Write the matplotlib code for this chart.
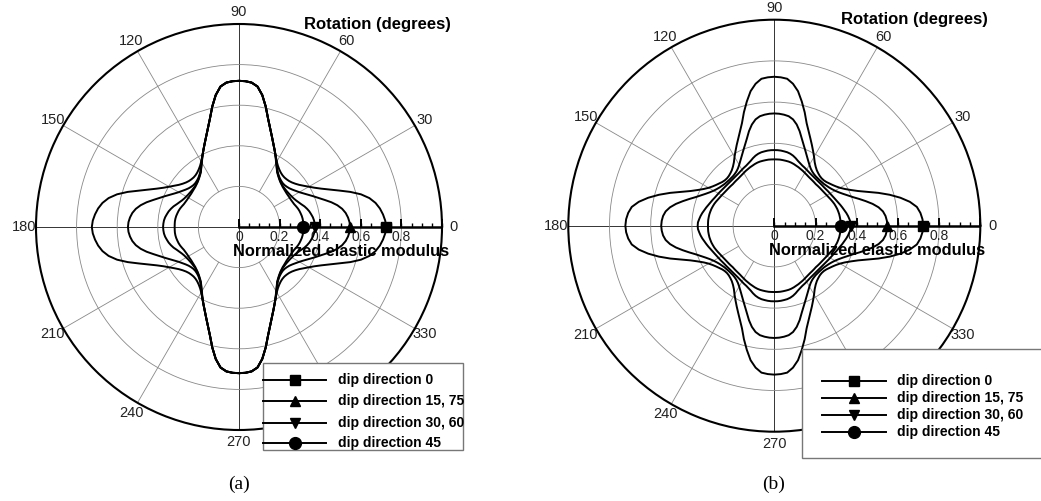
import numpy as np
import matplotlib.pyplot as plt
from matplotlib.lines import Line2D
from matplotlib.patches import Rectangle

plt.rcParams['font.family'] = ['Liberation Sans', 'DejaVu Sans']

#rotation angles of one quadrant (degrees), curves are mirror symmetric
angles = np.arange(0, 90.1, 2.5)

#panel (a) normalized elastic modulus, read every 2.5 degrees
a_dip0 = [0.725, 0.721, 0.712, 0.700, 0.683, 0.658, 0.622, 0.575, 0.525, 0.482,
          0.447, 0.419, 0.397, 0.378, 0.362, 0.350, 0.341, 0.335, 0.332, 0.331,
          0.333, 0.338, 0.346, 0.357, 0.372, 0.392, 0.416, 0.443, 0.474, 0.510,
          0.553, 0.608, 0.660, 0.698, 0.714, 0.719, 0.720]
a_dip15 = [0.547, 0.545, 0.539, 0.530, 0.516, 0.496, 0.471, 0.443, 0.418, 0.396,
           0.376, 0.358, 0.343, 0.331, 0.321, 0.313, 0.308, 0.305, 0.305, 0.308,
           0.313, 0.321, 0.332, 0.349, 0.370, 0.392, 0.416, 0.443, 0.474, 0.510,
           0.553, 0.608, 0.660, 0.698, 0.714, 0.719, 0.720]
a_dip30 = [0.374, 0.373, 0.371, 0.367, 0.361, 0.355, 0.347, 0.338, 0.327, 0.318,
           0.310, 0.304, 0.300, 0.297, 0.295, 0.294, 0.294, 0.295, 0.298, 0.303,
           0.310, 0.319, 0.330, 0.347, 0.368, 0.391, 0.416, 0.443, 0.474, 0.510,
           0.553, 0.608, 0.660, 0.698, 0.714, 0.719, 0.720]
a_dip45 = [0.317, 0.317, 0.317, 0.316, 0.314, 0.311, 0.308, 0.304, 0.299, 0.294,
           0.291, 0.289, 0.288, 0.287, 0.287, 0.288, 0.290, 0.292, 0.296, 0.301,
           0.308, 0.317, 0.328, 0.345, 0.366, 0.390, 0.416, 0.443, 0.474, 0.510,
           0.553, 0.608, 0.660, 0.698, 0.714, 0.719, 0.720]

#panel (b)
b_dip0 = [0.723, 0.720, 0.712, 0.698, 0.668, 0.627, 0.580, 0.530, 0.480, 0.440,
          0.410, 0.386, 0.368, 0.355, 0.345, 0.337, 0.330, 0.326, 0.325, 0.327,
          0.332, 0.339, 0.350, 0.365, 0.386, 0.408, 0.432, 0.458, 0.487, 0.522,
          0.570, 0.617, 0.663, 0.695, 0.716, 0.721, 0.723]
b_dip15 = [0.549, 0.547, 0.542, 0.532, 0.514, 0.489, 0.460, 0.432, 0.406, 0.385,
           0.367, 0.352, 0.340, 0.331, 0.324, 0.319, 0.315, 0.313, 0.312, 0.312,
           0.313, 0.316, 0.321, 0.329, 0.341, 0.356, 0.374, 0.394, 0.417, 0.443,
           0.475, 0.503, 0.524, 0.536, 0.541, 0.544, 0.545]
b_dip30 = [0.372, 0.371, 0.366, 0.361, 0.355, 0.348, 0.342, 0.336, 0.330, 0.325,
           0.320, 0.316, 0.313, 0.310, 0.307, 0.305, 0.304, 0.303, 0.303, 0.303,
           0.304, 0.305, 0.307, 0.310, 0.314, 0.318, 0.322, 0.328, 0.335, 0.344,
           0.352, 0.358, 0.362, 0.364, 0.366, 0.367, 0.367]
b_dip45 = [0.322, 0.322, 0.322, 0.321, 0.320, 0.318, 0.316, 0.313, 0.310, 0.306,
           0.302, 0.298, 0.295, 0.292, 0.290, 0.288, 0.287, 0.286, 0.285, 0.286,
           0.287, 0.288, 0.290, 0.293, 0.296, 0.300, 0.303, 0.307, 0.310, 0.314,
           0.317, 0.319, 0.320, 0.321, 0.322, 0.322, 0.322]

labels = ['dip direction 0', 'dip direction 15, 75', 'dip direction 30, 60', 'dip direction 45']
markers = ['s', '^', 'v', 'o']
msizes = [6.5, 7, 7, 8.5]

rlabels = ['0', '0.2', '0.4', '0.6', '0.8']
#300 sits behind the legend box in both panels
theta_labels = ['0', '30', '60', '90', '120', '150', '180', '210', '240', '270', '', '330']

W, H = 1041, 501
fig = plt.figure(figsize=(W / 100, H / 100), dpi=100)


#mirror one quadrant into the full circle
def full_curve(q):
    q = np.asarray(q)
    th = np.concatenate([angles, 180 - angles[::-1][1:], 180 + angles[1:], 360 - angles[::-1][1:]])
    r = np.concatenate([q, q[::-1][1:], q[1:], q[::-1][1:]])
    return np.deg2rad(th), r


def panel(cx, cy, R, curves):
    rect = [(cx - R) / W, 1 - (cy + R) / H, 2 * R / W, 2 * R / H]
    ax = fig.add_axes(rect, projection='polar')
    ax.set_ylim(0, 1)
    ax.set_yticks([0.2, 0.4, 0.6, 0.8])
    ax.set_yticklabels([])
    ax.tick_params(axis='y', length=0)
    ax.yaxis.grid(True, color='#888888', lw=0.6)
    ax.xaxis.grid(False)
    ax.spines['polar'].set_linewidth(1.5)

    ax.set_xticks(np.deg2rad(np.arange(0, 360, 30)))
    ax.set_xticklabels(theta_labels)
    ax.set_xticks(np.deg2rad(np.arange(0, 360, 5)), minor=True)
    ax.tick_params(axis='x', which='major', direction='in', length=8, width=1.6,
                   pad=1.5, labelsize=10.5, labelcolor='#222222')
    ax.tick_params(axis='x', which='minor', direction='in', length=4, width=0.8)

    #spokes
    for a in range(0, 360, 30):
        t = np.deg2rad(a)
        if a % 90 == 0:
            ax.plot([t, t], [0, 1], color='#333333', lw=0.7, zorder=1)
        else:
            ax.plot([t, t], [0.2, 1], color='#888888', lw=0.6, zorder=1)

    #radial axis along 0 degrees
    ax.plot([0, 0], [0, 1], color='k', lw=1.8, zorder=3)
    minor_r = np.arange(0, 1.001, 0.05)
    major_r = np.arange(0, 1.001, 0.2)
    ax.plot(np.zeros(len(minor_r)), minor_r, ls='none', marker=2, ms=3, mew=1,
            color='k', zorder=3, clip_on=False)
    ax.plot(np.zeros(len(major_r)), major_r, ls='none', marker=2, ms=6, mew=1.4,
            color='k', zorder=3, clip_on=False)
    for v, lbl in zip(major_r, rlabels):
        ax.annotate(lbl, xy=(0, v), xytext=(0, -7.5), textcoords='offset points',
                    ha='center', va='center', fontsize=10, color='#222222')

    for q, m, ms in zip(curves, markers, msizes):
        th, r = full_curve(q)
        ax.plot(th, r, color='k', lw=1.4, zorder=4, solid_joinstyle='round')
        ax.plot([0], [q[0]], marker=m, ms=ms, color='k', ls='none', zorder=5, clip_on=False)

    ax.text(0.661, 1.0, 'Rotation (degrees)', transform=ax.transAxes, ha='left', va='center',
            fontsize=12, fontweight='bold')
    ax.text(0.486, 0.44, 'Normalized elastic modulus', transform=ax.transAxes, ha='left',
            va='center', fontsize=11.8, fontweight='bold')
    return ax


def legend_box(x0, x1, y0, y1, lx0, lx1, lxm, tx, ys):
    fig.add_artist(Rectangle((x0 / W, 1 - y1 / H), (x1 - x0) / W, (y1 - y0) / H,
                             transform=fig.transFigure, facecolor='white',
                             edgecolor='#777777', lw=1, zorder=10))
    for y, lbl, m, ms in zip(ys, labels, markers, msizes):
        fy = 1 - y / H
        fig.add_artist(Line2D([lx0 / W, lx1 / W], [fy, fy], transform=fig.transFigure,
                              color='k', lw=1.4, zorder=11))
        fig.add_artist(Line2D([lxm / W], [fy], transform=fig.transFigure, marker=m,
                              ms=ms, color='k', ls='none', zorder=12))
        fig.text(tx / W, fy, lbl, ha='left', va='center', fontsize=10,
                 fontweight='bold', zorder=12)


panel(239, 227, 203, [a_dip0, a_dip15, a_dip30, a_dip45])
panel(774.3, 225.7, 206, [b_dip0, b_dip15, b_dip30, b_dip45])

legend_box(263, 463, 363, 450, 263, 326, 295, 337.7, [380, 401, 422.7, 443])
legend_box(802, 1046, 349, 458, 821.7, 885.7, 854, 896.7, [381, 398.3, 415, 432.3])

fig.text(239 / W, 1 - 484 / H, '(a)', ha='center', va='center', fontsize=14,
         family='Liberation Serif')
fig.text(774 / W, 1 - 484 / H, '(b)', ha='center', va='center', fontsize=14,
         family='Liberation Serif')

fig.savefig('out.png', dpi=100)
